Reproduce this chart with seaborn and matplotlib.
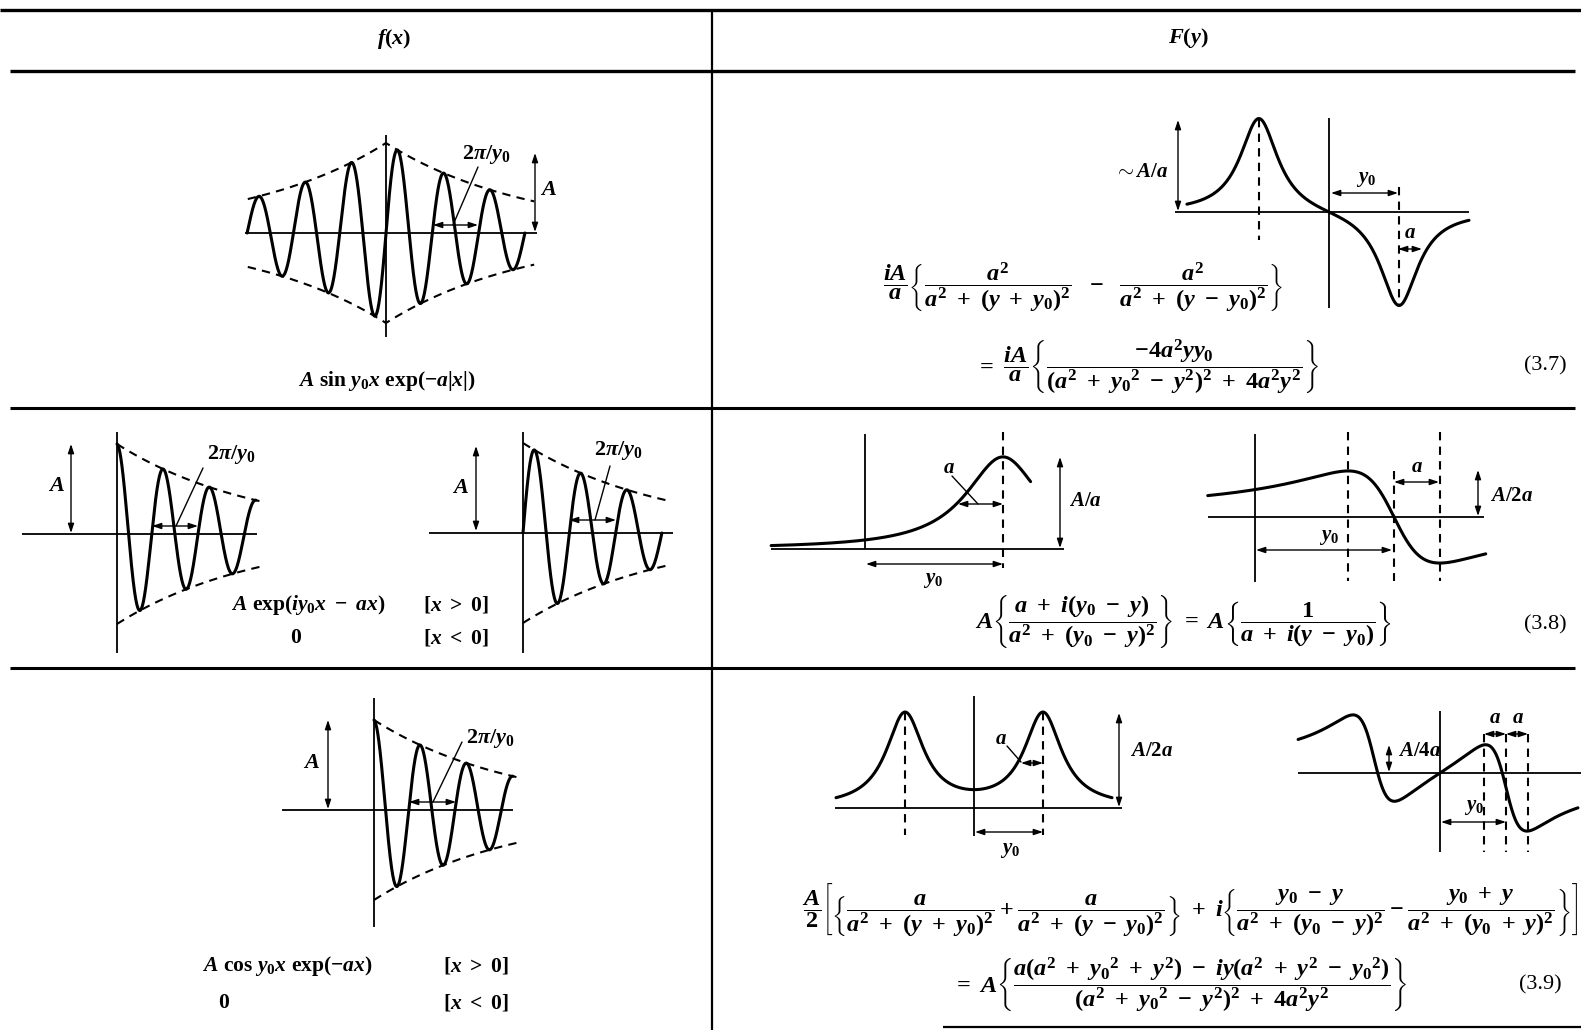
import numpy as np
import pandas as pd
import matplotlib
matplotlib.use("Agg")
import matplotlib.pyplot as plt
import seaborn as sns

# ---------------- values ----------------
Y0 = 1.0                 # carrier frequency y0 (unit)
A_AMP = 1.0              # amplitude A
DECAY_X = 0.052          # a (per radian) for the f(x) sketches: envelope falls ~0.72 per period
WIDTH_Y = 0.33           # a / y0 for the F(y) sketches
N_PERIODS = [3, 3, 3, 3] # periods drawn in each f(x) sketch
Y_RANGE_37 = [-2.03, 2.0]
Y_RANGE_38A = [-0.68, 1.2]
Y_RANGE_38B = [-0.34, 1.66]
Y_RANGE_39A = [-2.0, 2.0]
Y_RANGE_39B = [-2.15, 2.09]
HEADERS = ["$f(x)$", "$F(y)$"]
EQ_NUMBERS = ["(3.7)", "(3.8)", "(3.9)"]

sns.set_theme(style="white")
plt.rcParams["font.family"] = ["Liberation Serif", "DejaVu Serif"]
plt.rcParams["mathtext.fontset"] = "custom"
plt.rcParams["mathtext.rm"] = "Liberation Serif:bold"
plt.rcParams["mathtext.it"] = "Liberation Serif:italic:bold"
plt.rcParams["mathtext.bf"] = "Liberation Serif:bold"

W, H = 1581, 1030
fig = plt.figure(figsize=(W / 100, H / 100), dpi=100)
fig.patch.set_facecolor("white")
ov = fig.add_axes([0, 0, 1, 1])
ov.set_xlim(0, W)
ov.set_ylim(H, 0)
ov.axis("off")

K = "black"
FS = 17.5   # formula size
LS = 15     # label size


def panel(cx, cy, sx, sy):
    ax = fig.add_axes([0, 0, 1, 1])
    ax.patch.set_alpha(0)
    ax.axis("off")
    lims = ((-cx / sx, (W - cx) / sx), (-(H - cy) / sy, cy / sy))
    return ax, lims


def finish(ax, lims):
    ax.set_xlim(*lims[0])
    ax.set_ylim(*lims[1])
    ax.axis("off")


def curve(ax, x, y, dashed=False, lw=2.2):
    df = pd.DataFrame({"x": x, "y": y})
    sns.lineplot(data=df, x="x", y="y", ax=ax, color=K, lw=lw, sort=False,
                 estimator=None, clip_on=False)
    ln = ax.lines[-1]
    if dashed:
        ln.set_linewidth(1.5)
        ln.set_dashes([4, 3])


def hline(x0, x1, y, lw=1.3):
    ov.plot([x0, x1], [y, y], color=K, lw=lw, solid_capstyle="butt")


def vline(x, y0, y1, lw=1.3):
    ov.plot([x, x], [y0, y1], color=K, lw=lw, solid_capstyle="butt")


def darrow(p0, p1, lw=1.0):
    ov.annotate("", xy=p1, xytext=p0,
                arrowprops=dict(arrowstyle="<|-|>,head_length=0.45,head_width=0.15",
                                color=K, lw=lw, shrinkA=0, shrinkB=0))


def seg(p0, p1, lw=1.0):
    ov.plot([p0[0], p1[0]], [p0[1], p1[1]], color=K, lw=lw)


def txt(x, y, s, size=LS, ha="center", weight="bold"):
    ov.text(x, y, s, fontsize=size, ha=ha, va="center", color=K, fontweight=weight)


# ---------------- table rules ----------------
hline(0, W, 10, lw=2.4)
hline(10, 1575, 71, lw=2.4)
hline(10, 1575, 408, lw=2.2)
hline(10, 1575, 668, lw=2.2)
hline(943, W, 1027, lw=1.6)
vline(712, 10, H, lw=1.6)
txt(394, 39, HEADERS[0], size=16)
txt(1188, 38, HEADERS[1], size=16)

# ---------------- f(x) : A sin y0x exp(-a|x|) ----------------
sxf, syf = 46.3 / (2 * np.pi), 90.0
ax, lm = panel(386, 233, sxf, syf)
x = np.linspace(-N_PERIODS[0] * 2 * np.pi, N_PERIODS[0] * 2 * np.pi, 1500)
curve(ax, x, A_AMP * np.sin(Y0 * x) * np.exp(-DECAY_X * np.abs(x)))
xe = np.linspace(-5.97 * np.pi, 6.4 * np.pi, 200)
curve(ax, xe, A_AMP * np.exp(-DECAY_X * np.abs(xe)), dashed=True)
curve(ax, xe, -A_AMP * np.exp(-DECAY_X * np.abs(xe)), dashed=True)
finish(ax, lm)
hline(245, 537, 233)
vline(386, 135, 337)
darrow((433, 225), (478, 225))
seg((478, 167), (453, 225))
txt(486, 154, r"$2\pi/y_0$", size=16)
darrow((535, 153), (535, 232))
txt(549, 190, r"$A$", size=16)
txt(387, 381, r"$A\ \sin\,y_0x\ \exp(-a|x|)$", size=15.5)

# ---------------- f(x) : A exp(iy0x - ax), real part ----------------
ax, lm = panel(117, 534, sxf, syf)
x = np.linspace(0, N_PERIODS[1] * 2 * np.pi, 800)
curve(ax, x, A_AMP * np.cos(Y0 * x) * np.exp(-DECAY_X * x))
xe = np.linspace(0, 6.25 * np.pi, 100)
curve(ax, xe, A_AMP * np.exp(-DECAY_X * xe), dashed=True)
curve(ax, xe, -A_AMP * np.exp(-DECAY_X * xe), dashed=True)
finish(ax, lm)
hline(22, 257, 534)
vline(117, 432, 653)
darrow((71, 444), (71, 533))
txt(57, 486, r"$A$", size=16)
darrow((152, 526), (198, 526))
seg((203, 468), (176, 526))
txt(231, 454, r"$2\pi/y_0$", size=16)

# ---------------- f(x) : A exp(iy0x - ax), imaginary part ----------------
ax, lm = panel(523, 533, sxf, syf)
x = np.linspace(0, N_PERIODS[2] * 2 * np.pi, 800)
curve(ax, x, A_AMP * np.sin(Y0 * x) * np.exp(-DECAY_X * x))
xe = np.linspace(0, 6.2 * np.pi, 100)
curve(ax, xe, A_AMP * np.exp(-DECAY_X * xe), dashed=True)
curve(ax, xe, -A_AMP * np.exp(-DECAY_X * xe), dashed=True)
finish(ax, lm)
hline(429, 673, 533)
vline(523, 432, 653)
darrow((476, 446), (476, 531))
txt(461, 488, r"$A$", size=16)
darrow((569, 520), (616, 520))
seg((610, 466), (595, 520))
txt(618, 451, r"$2\pi/y_0$", size=16)
txt(308, 605, r"$A\ \exp(iy_0x\ -\ ax)$", size=15.5)
txt(456, 605, r"$[x\ >\ 0]$", size=15.5)
txt(296, 638, r"$0$", size=15.5)
txt(456, 638, r"$[x\ <\ 0]$", size=15.5)

# ---------------- f(x) : A cos y0x exp(-ax) ----------------
ax, lm = panel(374, 810, sxf, syf)
x = np.linspace(0, N_PERIODS[3] * 2 * np.pi, 800)
curve(ax, x, A_AMP * np.cos(Y0 * x) * np.exp(-DECAY_X * x))
xe = np.linspace(0, 6.3 * np.pi, 100)
curve(ax, xe, A_AMP * np.exp(-DECAY_X * xe), dashed=True)
curve(ax, xe, -A_AMP * np.exp(-DECAY_X * xe), dashed=True)
finish(ax, lm)
hline(282, 513, 810)
vline(374, 698, 927)
darrow((328, 720), (328, 809))
txt(312, 763, r"$A$", size=16)
darrow((409, 802), (456, 802))
seg((462, 742), (433, 802))
txt(490, 738, r"$2\pi/y_0$", size=16)
txt(287, 966, r"$A\ \cos\,y_0x\ \exp(-ax)$", size=15.5)
txt(476, 966, r"$[x\ >\ 0]$", size=15.5)
txt(224, 1003, r"$0$", size=15.5)
txt(476, 1003, r"$[x\ <\ 0]$", size=15.5)

# ---------------- F(y) (3.7) ----------------
a = WIDTH_Y * Y0
ax, lm = panel(1329, 212, 70, 96)
y = np.linspace(*Y_RANGE_37, 800)
curve(ax, y, a**2 / (a**2 + (y + Y0) ** 2) - a**2 / (a**2 + (y - Y0) ** 2))
curve(ax, [-Y0, -Y0], [0.97, -0.29], dashed=True)
curve(ax, [Y0, Y0], [0.26, -0.99], dashed=True)
finish(ax, lm)
hline(1175, 1469, 212)
vline(1329, 118, 308)
darrow((1178, 120), (1178, 211))
txt(1168, 172, r"$\sim A/a$", ha="right")
darrow((1331, 193), (1398, 193))
txt(1366, 179, r"$y_0$")
darrow((1398, 249), (1422, 249))
txt(1410, 233, r"$a$")
txt(1083, 287, r"$\dfrac{iA}{a}\left\{\dfrac{a^2}{a^2\ +\ (y\ +\ y_0)^2}\ \ -\ \ \dfrac{a^2}{a^2\ +\ (y\ -\ y_0)^2}\right\}$", size=FS)
txt(1147, 367, r"$=\ \dfrac{iA}{a}\left\{\dfrac{-4a^2yy_0}{(a^2\ +\ {y_0}^2\ -\ y^2)^2\ +\ 4a^2y^2}\right\}$", size=FS)
txt(1545, 366, EQ_NUMBERS[0], size=16, weight="normal")

# ---------------- F(y) (3.8) real part ----------------
ax, lm = panel(865, 549, 138, 30.4)
y = np.linspace(*Y_RANGE_38A, 600)
curve(ax, y, a / (a**2 + (y - Y0) ** 2))
curve(ax, [Y0, Y0], [3.85, -0.63], dashed=True)
finish(ax, lm)
hline(771, 1064, 549)
vline(865, 434, 549)
darrow((866, 564), (1003, 564))
txt(933, 580, r"$y_0$")
darrow((1060, 457), (1060, 548))
txt(1085, 501, r"$A/a$")
darrow((958, 504), (1003, 504))
seg((952, 476), (978, 504))
txt(949, 468, r"$a$")

# ---------------- F(y) (3.8) imaginary part ----------------
ax, lm = panel(1255, 517, 139, 30.4)
y = np.linspace(*Y_RANGE_38B, 600)
curve(ax, y, (Y0 - y) / (a**2 + (Y0 - y) ** 2))
for xv, top in [(Y0 - a, 2.8), (Y0, 1.5), (Y0 + a, 2.8)]:
    curve(ax, [xv, xv], [top, -2.1], dashed=True)
finish(ax, lm)
hline(1208, 1484, 517)
vline(1255, 434, 582)
darrow((1256, 550), (1392, 550))
txt(1329, 537, r"$y_0$")
darrow((1394, 482), (1439, 482))
txt(1417, 467, r"$a$")
darrow((1478, 470), (1478, 516))
txt(1512, 496, r"$A/2a$")
txt(1183, 622, r"$A\left\{\dfrac{a\ +\ i(y_0\ -\ y)}{a^2\ +\ (y_0\ -\ y)^2}\right\}\ =\ A\left\{\dfrac{1}{a\ +\ i(y\ -\ y_0)}\right\}$", size=FS)
txt(1545, 625, EQ_NUMBERS[1], size=16, weight="normal")

# ---------------- F(y) (3.9) real part ----------------
ax, lm = panel(974, 808, 69, 61.7)
y = np.linspace(*Y_RANGE_39A, 800)
curve(ax, y, 0.5 * (a / (a**2 + (y + Y0) ** 2) + a / (a**2 + (y - Y0) ** 2)))
curve(ax, [-Y0, -Y0], [1.555, -0.44], dashed=True)
curve(ax, [Y0, Y0], [1.555, -0.44], dashed=True)
finish(ax, lm)
hline(835, 1122, 808)
vline(974, 696, 836)
darrow((975, 832), (1043, 832))
txt(1010, 850, r"$y_0$")
darrow((1119, 713), (1119, 807))
txt(1152, 751, r"$A/2a$")
darrow((1021, 763), (1043, 763))
seg((1007, 746), (1021, 762))
txt(1001, 739, r"$a$")

# ---------------- F(y) (3.9) imaginary part ----------------
ax, lm = panel(1440, 773, 66, 60)
y = np.linspace(*Y_RANGE_39B, 800)
curve(ax, y, 0.5 * ((Y0 - y) / (a**2 + (Y0 - y) ** 2) - (Y0 + y) / (a**2 + (Y0 + y) ** 2)))
for xv in [Y0 - a, Y0, Y0 + a]:
    curve(ax, [xv, xv], [0.65, -1.32], dashed=True)
finish(ax, lm)
hline(1298, W, 773)
vline(1440, 711, 852)
darrow((1441, 822), (1506, 822))
txt(1474, 807, r"$y_0$")
darrow((1484, 734), (1506, 734))
darrow((1506, 734), (1528, 734))
txt(1495, 718, r"$a$")
txt(1518, 718, r"$a$")
darrow((1389, 745), (1389, 772))
txt(1420, 751, r"$A/4a$")
txt(1190, 910, r"$\dfrac{A}{2}\left[\left\{\dfrac{a}{a^2\ +\ (y\ +\ y_0)^2}+\dfrac{a}{a^2\ +\ (y\ -\ y_0)^2}\right\}\ +\ i\left\{\dfrac{y_0\ -\ y}{a^2\ +\ (y_0\ -\ y)^2}-\dfrac{y_0\ +\ y}{a^2\ +\ (y_0\ +\ y)^2}\right\}\right]$", size=FS)
txt(1180, 985, r"$=\ A\left\{\dfrac{a(a^2\ +\ {y_0}^2\ +\ y^2)\ -\ iy(a^2\ +\ y^2\ -\ {y_0}^2)}{(a^2\ +\ {y_0}^2\ -\ y^2)^2\ +\ 4a^2y^2}\right\}$", size=FS)
txt(1540, 985, EQ_NUMBERS[2], size=16, weight="normal")

fig.savefig("out.png", dpi=100, facecolor="white")
